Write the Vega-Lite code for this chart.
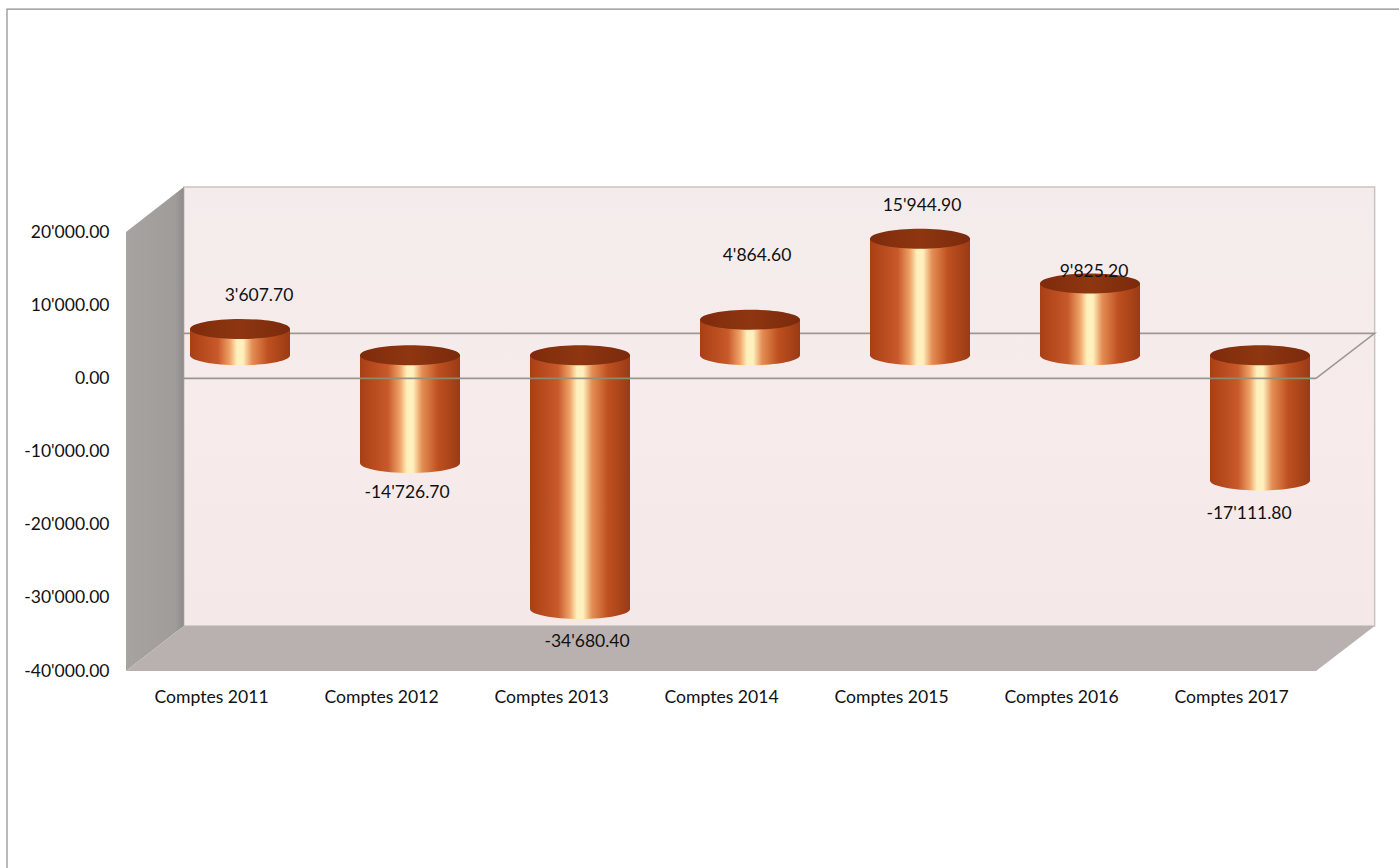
{
"$schema":"https://vega.github.io/schema/vega-lite/v6.json",
"width":1190,"height":439,
"autosize":{"type":"none"},
"padding":{"left":126,"top":232,"right":83,"bottom":197},
"background":"#FFFFFF",
"view":{"stroke":null},
"datasets":{
"accounts":[
{"year":2011,"value":3607.7,"end":3607.7,"base":0,"label":"3'607.70"},
{"year":2012,"value":-14726.7,"end":0,"base":-14726.7,"label":"-14'726.70"},
{"year":2013,"value":-34680.4,"end":0,"base":-34680.4,"label":"-34'680.40"},
{"year":2014,"value":4864.6,"end":4864.6,"base":0,"label":"4'864.60"},
{"year":2015,"value":15944.9,"end":15944.9,"base":0,"label":"15'944.90"},
{"year":2016,"value":9825.2,"end":9825.2,"base":0,"label":"9'825.20"},
{"year":2017,"value":-17111.8,"end":0,"base":-17111.8,"label":"-17'111.80"}
],
"walls":[
{"part":"left","yr":2010.5,"lo":-40000,"hi":20000},
{"part":"left","yr":2010.84,"lo":-33850,"hi":26150},
{"part":"floor","yr":2010.5,"lo":-40000,"hi":-40000},
{"part":"floor","yr":2010.84,"lo":-40000,"hi":-33850},
{"part":"floor","yr":2017.5,"lo":-40000,"hi":-33850},
{"part":"floor","yr":2017.845,"lo":-33850,"hi":-33850},
{"part":"back","yr":2010.84,"lo":-33850,"hi":26150},
{"part":"back","yr":2017.845,"lo":-33850,"hi":26150}
],
"zero":[
{"part":"backline","seq":1,"yr":2010.84,"v":6150},
{"part":"backline","seq":2,"yr":2017.845,"v":6150},
{"part":"backline","seq":3,"yr":2017.5,"v":0},
{"part":"frontline","seq":1,"yr":2010.84,"v":0},
{"part":"frontline","seq":2,"yr":2017.5,"v":0}
],
"frame":[
{"x0":2009.8,"x1":2019,"y0":-80000,"y1":50450}
]
},
"encoding":{
"x":{"field":"year","type":"quantitative","scale":{"domain":[2010.5,2017.5],"nice":false,"zero":false,"padding":0}},
"y":{"type":"quantitative","scale":{"domain":[-40000,20000],"nice":false,"zero":false}}
},
"layer":[
{"data":{"name":"frame"},
"mark":{"type":"rect","fill":"transparent","stroke":"#8C8C8C","strokeWidth":1.2,"clip":false},
"encoding":{
"x":{"field":"x0","type":"quantitative","axis":{"title":null,"values":[2011,2012,2013,2014,2015,2016,2017],"domain":false,"ticks":false,"grid":false,"labelExpr":"'Comptes ' + datum.value","labelFont":"Lato","labelFontSize":17.6,"labelColor":"#111111","labelPadding":26,"labelBaseline":"middle"}},
"x2":{"field":"x1"},
"y":{"field":"y0","type":"quantitative","axis":{"title":null,"values":[-40000,-30000,-20000,-10000,0,10000,20000],"domain":false,"ticks":false,"grid":false,"labelExpr":"replace(replace(format(datum.value, ',.2f'), ',', \"'\"), '\u2212', '-')","labelFont":"Lato","labelFontSize":17.5,"labelColor":"#111111","labelPadding":17}},
"y2":{"field":"y1"}
}},
{"data":{"name":"walls"},"transform":[{"filter":"datum.part==='back'"}],
"mark":{"type":"area","clip":false,"stroke":"#C9C4C4","strokeWidth":1.5,"color":{"gradient":"linear","x1":0,"y1":0,"x2":0,"y2":1,"stops":[{"offset":0,"color":"#F4ECEC"},{"offset":0.5,"color":"#F7EBEB"},{"offset":1,"color":"#F4E8E8"}]}},
"encoding":{"x":{"field":"yr","type":"quantitative"},"y":{"field":"lo","type":"quantitative"},"y2":{"field":"hi"}}},
{"data":{"name":"walls"},"transform":[{"filter":"datum.part==='left'"}],
"mark":{"type":"area","clip":false,"color":{"gradient":"linear","x1":0,"y1":0,"x2":1,"y2":0,"stops":[{"offset":0,"color":"#A6A3A1"},{"offset":0.85,"color":"#A09C9A"},{"offset":1,"color":"#8F8B8A"}]}},
"encoding":{"x":{"field":"yr","type":"quantitative"},"y":{"field":"lo","type":"quantitative"},"y2":{"field":"hi"}}},
{"data":{"name":"walls"},"transform":[{"filter":"datum.part==='floor'"}],
"mark":{"type":"area","clip":false,"color":"#B9B1AF"},
"encoding":{"x":{"field":"yr","type":"quantitative"},"y":{"field":"lo","type":"quantitative"},"y2":{"field":"hi"}}},
{"data":{"name":"zero"},"transform":[{"filter":"datum.part==='backline'"}],
"mark":{"type":"line","clip":false,"color":"#9B9896","strokeWidth":1.6},
"encoding":{"x":{"field":"yr","type":"quantitative"},"y":{"field":"v","type":"quantitative"},"order":{"field":"seq"}}},
{"data":{"name":"accounts"},
"mark":{"type":"point","filled":true,"clip":false,"opacity":1,"size":10000,"yOffset":-23,"xOffset":29,"shape":"M-1 0A1 .2 0 1 0 1 0A1 .2 0 1 0-1 0Z","color":{"gradient":"linear","x1":0,"y1":0,"x2":1,"y2":0,"stops":[{"offset":0,"color":"#A83F14"},{"offset":0.28,"color":"#C8592A"},{"offset":0.4,"color":"#EFA468"},{"offset":0.47,"color":"#FFF1BE"},{"offset":0.53,"color":"#FFF1BE"},{"offset":0.62,"color":"#E48E55"},{"offset":0.78,"color":"#BE5020"},{"offset":1,"color":"#9A3A14"}]}},
"encoding":{"x":{"field":"year","type":"quantitative"},"y":{"field":"base","type":"quantitative"}}},
{"data":{"name":"accounts"},
"mark":{"type":"bar","clip":false,"size":100,"yOffset":-23,"y2Offset":-23,"xOffset":29,"color":{"gradient":"linear","x1":0,"y1":0,"x2":1,"y2":0,"stops":[{"offset":0,"color":"#A83F14"},{"offset":0.28,"color":"#C8592A"},{"offset":0.4,"color":"#EFA468"},{"offset":0.47,"color":"#FFF1BE"},{"offset":0.53,"color":"#FFF1BE"},{"offset":0.62,"color":"#E48E55"},{"offset":0.78,"color":"#BE5020"},{"offset":1,"color":"#9A3A14"}]}},
"encoding":{"x":{"field":"year","type":"quantitative"},"y":{"field":"base","type":"quantitative"},"y2":{"field":"end"}}},
{"data":{"name":"accounts"},
"mark":{"type":"point","filled":true,"clip":false,"opacity":1,"size":10000,"yOffset":-23,"xOffset":29,"shape":"M-1 0A1 .2 0 1 0 1 0A1 .2 0 1 0-1 0Z","color":{"gradient":"linear","x1":0,"y1":0,"x2":1,"y2":0,"stops":[{"offset":0,"color":"#7E2B0C"},{"offset":0.5,"color":"#8E3610"},{"offset":1,"color":"#7A2A0C"}]}},
"encoding":{"x":{"field":"year","type":"quantitative"},"y":{"field":"end","type":"quantitative"}}},
{"data":{"name":"zero"},"transform":[{"filter":"datum.part==='frontline'"}],
"mark":{"type":"line","clip":false,"color":"#8E8E80","strokeWidth":1.6,"opacity":0.9},
"encoding":{"x":{"field":"yr","type":"quantitative"},"y":{"field":"v","type":"quantitative"}}},
{"data":{"name":"accounts"},"transform":[{"filter":"datum.year===2011"}],"mark":{"type":"text","clip":false,"font":"Lato","fontSize":17.5,"color":"#111111","dx":48,"dy":-56},"encoding":{"x":{"field":"year","type":"quantitative"},"y":{"field":"value","type":"quantitative"},"text":{"field":"label"}}},
{"data":{"name":"accounts"},"transform":[{"filter":"datum.year===2012"}],"mark":{"type":"text","clip":false,"font":"Lato","fontSize":17.5,"color":"#111111","dx":26,"dy":7},"encoding":{"x":{"field":"year","type":"quantitative"},"y":{"field":"value","type":"quantitative"},"text":{"field":"label"}}},
{"data":{"name":"accounts"},"transform":[{"filter":"datum.year===2013"}],"mark":{"type":"text","clip":false,"font":"Lato","fontSize":17.5,"color":"#111111","dx":36,"dy":10},"encoding":{"x":{"field":"year","type":"quantitative"},"y":{"field":"value","type":"quantitative"},"text":{"field":"label"}}},
{"data":{"name":"accounts"},"transform":[{"filter":"datum.year===2014"}],"mark":{"type":"text","clip":false,"font":"Lato","fontSize":17.5,"color":"#111111","dx":36,"dy":-87},"encoding":{"x":{"field":"year","type":"quantitative"},"y":{"field":"value","type":"quantitative"},"text":{"field":"label"}}},
{"data":{"name":"accounts"},"transform":[{"filter":"datum.year===2015"}],"mark":{"type":"text","clip":false,"font":"Lato","fontSize":17.5,"color":"#111111","dx":31,"dy":-56},"encoding":{"x":{"field":"year","type":"quantitative"},"y":{"field":"value","type":"quantitative"},"text":{"field":"label"}}},
{"data":{"name":"accounts"},"transform":[{"filter":"datum.year===2016"}],"mark":{"type":"text","clip":false,"font":"Lato","fontSize":17.5,"color":"#111111","dx":33,"dy":-34},"encoding":{"x":{"field":"year","type":"quantitative"},"y":{"field":"value","type":"quantitative"},"text":{"field":"label"}}},
{"data":{"name":"accounts"},"transform":[{"filter":"datum.year===2017"}],"mark":{"type":"text","clip":false,"font":"Lato","fontSize":17.5,"color":"#111111","dx":18,"dy":10},"encoding":{"x":{"field":"year","type":"quantitative"},"y":{"field":"value","type":"quantitative"},"text":{"field":"label"}}}
]
}
